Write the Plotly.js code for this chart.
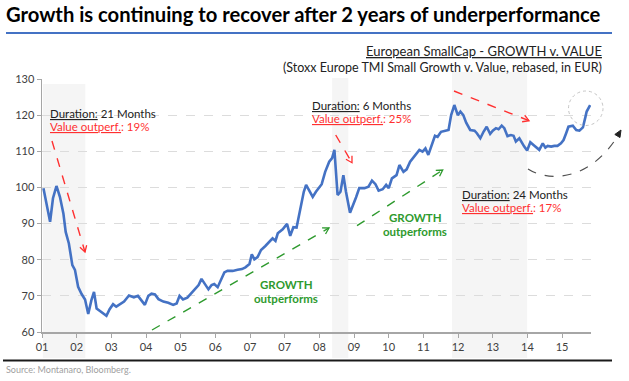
<!DOCTYPE html>
<html><head><meta charset="utf-8">
<script src="https://cdn.plot.ly/plotly-3.0.1.min.js"></script>
<style>html,body{margin:0;padding:0;background:#fff}#chart{width:629px;height:381px}</style>
</head><body><div id="chart"></div>
<script>
// ---- data (month index from start of 2001, rebased index value) ----
const months = [0.5,2.8,3.8,5.0,6.2,7.4,8.2,9.3,10.5,11.4,12.5,13.7,14.9,16.0,17.1,18.0,18.9,20.3,22.3,23.4,24.6,25.7,27.0,28.4,30.1,31.8,33.2,34.4,35.6,36.8,37.9,39.1,40.3,42.0,43.7,45.4,46.6,47.6,48.8,50.3,51.6,53.3,54.2,55.2,56.4,57.6,58.7,59.6,60.8,62.0,63.1,64.2,66.0,67.7,69.2,70.4,71.8,72.6,73.5,74.6,75.8,77.3,78.7,79.8,80.8,81.6,83.3,84.8,85.9,87.0,88.1,89.6,90.6,91.4,92.5,93.7,94.8,96.8,98.0,99.4,100.4,101.2,102.3,103.3,104.3,105.2,106.6,107.5,108.7,109.8,111.6,113.0,114.2,115.4,116.5,117.9,119.1,120.0,121.1,122.7,123.7,125.1,126.2,127.4,128.3,129.7,130.6,131.7,132.7,133.7,134.9,136.0,136.9,138.1,139.6,140.7,141.6,142.7,143.9,144.8,145.8,146.8,148.2,149.7,150.5,151.7,152.8,153.9,155.1,156.0,157.1,158.0,159.1,160.0,161.1,162.3,163.2,164.0,165.2,166.1,166.9,167.9,169.0,170.2,171.3,172.1,173.3,174.2,175.0,176.2,177.3,178.4,179.6,180.5,181.4,182.2,183.7,184.9,186.0,187.2,188.1,188.5,189.7];
const values = [99.8,90.5,97.0,100.4,97.4,92.8,87.7,84.5,78.5,77.2,72.5,70.5,69.0,65.0,68.8,71.1,66.5,65.6,64.5,66.3,67.7,67.0,67.7,68.4,70.1,69.6,70.0,68.6,67.5,70.0,70.6,70.4,69.1,68.4,68.1,67.5,67.9,70.0,69.0,69.5,70.7,72.1,73.0,74.7,73.3,71.8,73.0,73.3,72.4,74.7,76.5,76.9,76.9,77.2,77.4,77.9,78.8,81.5,80.1,80.7,82.7,83.8,85.0,85.9,85.2,87.3,88.4,89.9,86.6,89.0,88.9,95.1,98.8,100.7,99.3,97.4,98.8,100.9,104.3,107.1,108.1,110.4,97.9,98.8,103.4,98.8,93.0,95.1,97.3,99.8,99.8,100.2,101.9,100.9,99.1,99.5,100.7,99.8,102.5,103.4,106.2,104.3,105.0,107.1,108.1,109.4,110.4,109.9,110.8,109.0,111.7,114.3,114.0,115.4,115.7,115.9,120.0,122.8,120.0,121.0,120.0,117.9,115.9,115.7,115.0,113.6,115.4,116.8,114.8,115.7,116.4,116.1,117.1,116.4,114.2,114.5,114.3,112.7,113.6,112.2,111.3,110.2,112.5,111.7,111.0,110.4,112.2,111.0,111.5,111.3,111.5,111.5,112.2,113.1,115.0,116.8,117.1,115.9,115.7,116.6,119.6,121.0,122.8];
const tickMonths = [0,12,24,36,48,60,72,84,96,108,120,132,144,156,168,180];
const tickLabels = ["01","02","03","04","05","06","07","07","08","09","10","11","12","13","14","15"];
const yTicks = [60,70,80,90,100,110,120,130];
// shaded periods of value outperformance (start month, end month)
const periodStart = [0.3, 100.4, 141.9];
const periodEnd = [15.0, 106.0, 167.9];
const periodDuration = ["21 Months", "6 Months", "24 Months"];
const periodValueOutperf = ["19%", "25%", "17%"];

// ---- layout helpers (pixel -> paper) ----
const L = 42, T = 79, W = 549, H = 253;
const fx = p => (p - L) / W;
const fy = p => (T + H - p) / H;

const RED = '#ff3030', GREEN = '#2e9a2e', GRAY = '#505050';
const shapes = [];
const periodTops = [84, 78, 72];
for (let i = 0; i < periodStart.length; i++) {
  shapes.push({type:'rect', xref:'x', yref:'paper', x0: periodStart[i], x1: periodEnd[i],
    y0: fy(358), y1: fy(periodTops[i]), fillcolor:'#f5f5f5', line:{width:0}, layer:'below'});
}
function dashedArrow(x0, y0, x1, y1, color) {
  shapes.push({type:'line', xref:'paper', yref:'paper', x0: fx(x0), y0: fy(y0), x1: fx(x1), y1: fy(y1),
    line:{color: color, width: 1.4, dash: 'dash'}});
  const dx = x1 - x0, dy = y1 - y0, len = Math.hypot(dx, dy);
  const ux = dx / len, uy = dy / len, nx = -uy, ny = ux;
  const bx = x1 - ux * 6, by = y1 - uy * 6;
  const p1 = [bx + nx * 3.5, by + ny * 3.5], p2 = [bx - nx * 3.5, by - ny * 3.5];
  shapes.push({type:'path', xref:'paper', yref:'paper',
    path: `M ${fx(p1[0])} ${fy(p1[1])} L ${fx(x1)} ${fy(y1)} L ${fx(p2[0])} ${fy(p2[1])}`,
    line:{color: color, width: 1.3}});
}
dashedArrow(52, 141, 85, 252, RED);
dashedArrow(335.7, 135, 352, 162.7, RED);
dashedArrow(454, 91, 529, 120.7, RED);
dashedArrow(152, 330, 329, 228, GREEN);
dashedArrow(357, 225.7, 442.7, 170, GREEN);

// curved gray arrow
shapes.push({type:'path', xref:'paper', yref:'paper',
  path: `M ${fx(528)} ${fy(169)} C ${fx(548)} ${fy(182)} ${fx(590)} ${fy(182)} ${fx(619)} ${fy(134)}`,
  line:{color: GRAY, width: 1.2, dash: 'dash'}});
(function(){
  const tx = 621, ty = 130, dx = 30, dy = -50, len = Math.hypot(dx, dy);
  const ux = dx/len, uy = dy/len, nx = -uy, ny = ux;
  const bx = tx - ux*7, by = ty - uy*7;
  shapes.push({type:'path', xref:'paper', yref:'paper',
    path: `M ${fx(bx+nx*3)} ${fy(by+ny*3)} L ${fx(tx)} ${fy(ty)} L ${fx(bx-nx*3)} ${fy(by-ny*3)} Z`,
    fillcolor: '#222', line:{color:'#222', width:1}});
})();
// dotted circle
shapes.push({type:'circle', xref:'paper', yref:'paper', x0: fx(568.5), x1: fx(603), y0: fy(125.5), y1: fy(91),
  line:{color:'#c4c4c4', width:1, dash:'dot'}});
// header underline and footer rule
shapes.push({type:'line', xref:'paper', yref:'paper', x0: fx(6), x1: fx(612), y0: fy(33), y1: fy(33),
  line:{color:'#4472C4', width:2}});
shapes.push({type:'line', xref:'paper', yref:'paper', x0: fx(3), x1: fx(612), y0: fy(360.5), y1: fy(360.5),
  line:{color:'#1a1a1a', width:1.8}});

const FONT = 'Lato, "Open Sans", sans-serif';
const annotations = [];
function txt(text, x, y, opts) {
  annotations.push(Object.assign({text: text, xref:'paper', yref:'paper', x: fx(x), y: fy(y),
    xanchor:'left', yanchor:'middle', showarrow:false, borderpad: 0,
    font:{family: FONT, size: 11.5, color:'#222'}}, opts || {}));
}
const durPos = [[49, 113.5], [311, 105.5], [461, 194.5]];
for (let i = 0; i < 3; i++) {
  txt(`<u>Duration:</u> ${periodDuration[i]}`, durPos[i][0], durPos[i][1]);
  txt(`<u>Value outperf.</u>: ${periodValueOutperf[i]}`, durPos[i][0], durPos[i][1] + 12.5,
    {font:{family: FONT, size: 11.5, color: RED}});
}
const growthPos = [[286, 284.5], [415, 217.5]];
for (const p of growthPos) {
  txt('<b>GROWTH</b>', p[0], p[1], {xanchor:'center', font:{family: FONT, size: 11.5, color: GREEN}});
  txt('<b>outperforms</b>', p[0], p[1] + 13.5, {xanchor:'center', font:{family: FONT, size: 11.5, color: GREEN}});
}
txt('<u>European SmallCap - GROWTH v. VALUE</u>', 603, 51.5, {xanchor:'right', font:{family: FONT, size: 13, color:'#222'}});
txt('(Stoxx Europe TMI Small Growth v. Value, rebased, in EUR)', 603, 67.5, {xanchor:'right', font:{family: FONT, size: 12.5, color:'#222'}});
txt('Source: Montanaro, Bloomberg.', 5, 369, {font:{family: FONT, size: 9, color:'#a0a0a0'}});

const trace = {x: months, y: values, type:'scatter', mode:'lines',
  line:{color:'#4472C4', width:2.6, shape:'linear'}, hoverinfo:'skip'};

const layout = {
  width: 629, height: 381,
  margin: {l: L, r: 629 - L - W, t: T, b: 381 - T - H, pad: 0},
  paper_bgcolor: '#fff', plot_bgcolor: 'rgba(0,0,0,0)',
  showlegend: false,
  title: {text: '<b>Growth is continuing to recover after 2 years of underperformance</b>',
    font: {family: FONT, size: 20.2, color: '#000'}, xref:'container', yref:'container',
    x: 6/629, xanchor:'left', y: 1 - 15/381, yanchor:'middle'},
  xaxis: {range: [0, 190], tickvals: tickMonths, ticktext: tickLabels, showgrid: false, zeroline: false,
    showline: true, linecolor: '#a6a6a6', linewidth: 1.5, ticks: 'outside', ticklen: 4, tickcolor: '#a6a6a6',
    tickfont: {family: FONT, size: 11, color: '#404040'}, fixedrange: true},
  yaxis: {range: [60, 130], tickvals: yTicks, showgrid: true, gridcolor: '#dcdcdc', griddash: 'dash', gridwidth: 1,
    zeroline: false, showline: true, linecolor: '#a6a6a6', linewidth: 1.5, ticks: 'outside', ticklen: 4,
    tickcolor: '#a6a6a6', tickfont: {family: FONT, size: 11, color: '#404040'}, fixedrange: true},
  shapes: shapes,
  annotations: annotations
};
Plotly.newPlot('chart', [trace], layout, {staticPlot: true, displayModeBar: false});
</script>
</body></html>
